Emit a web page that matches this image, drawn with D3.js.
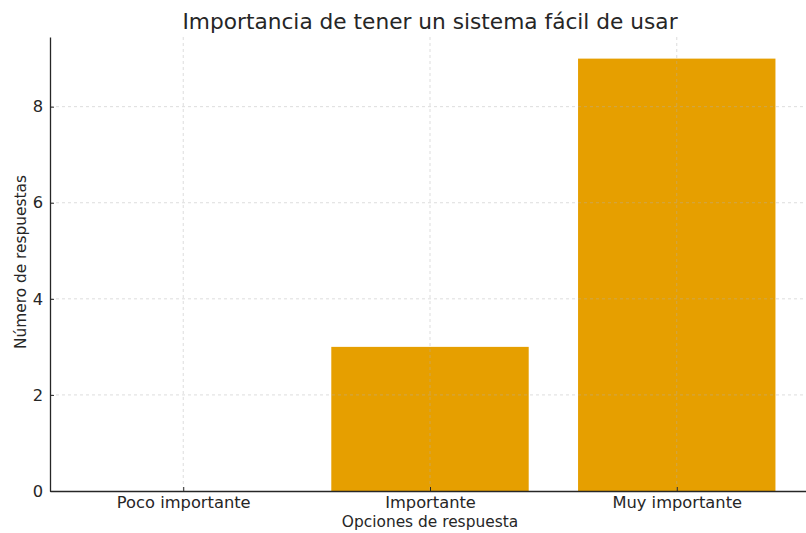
<!DOCTYPE html>
<html><head><meta charset="utf-8">
<script src="https://cdn.jsdelivr.net/npm/d3@7"></script>
<style>body{margin:0;background:#fff}svg{display:block}text{font-family:"DejaVu Sans",sans-serif;fill:#262626}</style>
</head><body>
<script>
const categories = ["Poco importante", "Importante", "Muy importante"];
const values = [0, 3, 9];
const yTicks = [0, 2, 4, 6, 8];
const title = "Importancia de tener un sistema fácil de usar";
const xLabel = "Opciones de respuesta";
const yLabel = "Número de respuestas";

const W = 806, H = 533;
const mLeft = 50, mRight = 810, mTop = 37, mBottom = 491;
const svg = d3.select("body").append("svg").attr("width", W).attr("height", H);

const x = d3.scaleLinear().domain([-0.54, 2.54]).range([mLeft, mRight]);
const y = d3.scaleLinear().domain([0, 9.45]).range([mBottom, mTop]);
const bw = x(0.8) - x(0);

svg.selectAll("rect.bar").data(values).enter().append("rect")
  .attr("x", (d, i) => x(i) - bw / 2).attr("width", bw)
  .attr("y", d => y(d)).attr("height", d => y(0) - y(d))
  .attr("fill", "#E69F00");

const grid = svg.append("g");
grid.selectAll("line.gy").data(yTicks.slice(1)).enter().append("line")
  .attr("x1", mLeft).attr("x2", mRight).attr("y1", d => y(d)).attr("y2", d => y(d))
  .attr("stroke", "#b0b0b0").attr("stroke-opacity", 0.55).attr("stroke-dasharray", "3,3").attr("stroke-width", 0.8);
grid.selectAll("line.gx").data(categories).enter().append("line")
  .attr("x1", (d, i) => x(i)).attr("x2", (d, i) => x(i)).attr("y1", mTop).attr("y2", mBottom)
  .attr("stroke", "#b0b0b0").attr("stroke-opacity", 0.55).attr("stroke-dasharray", "3,3").attr("stroke-width", 0.8);

const yAxis = svg.append("g").attr("transform", `translate(${mLeft},0)`)
  .call(d3.axisLeft(y).tickValues(yTicks).tickFormat(d3.format("d")).tickSizeInner(-4).tickSizeOuter(0).tickPadding(7));
const xAxis = svg.append("g").attr("transform", `translate(0,${mBottom})`)
  .call(d3.axisBottom(x).tickValues([0, 1, 2]).tickFormat(i => categories[i]).tickSizeInner(-4).tickSizeOuter(0).tickPadding(5));
[yAxis, xAxis].forEach(a => {
  a.select(".domain").attr("stroke", "#262626").attr("stroke-width", 1.3);
  a.selectAll(".tick line").attr("stroke", "#262626");
  a.selectAll("text").attr("font-size", 16.3).attr("font-family", "DejaVu Sans").attr("fill", "#262626");
});

svg.append("text").attr("x", (mLeft + mRight) / 2).attr("y", 29).attr("text-anchor", "middle")
  .attr("font-size", 21.7).text(title);
svg.append("text").attr("x", (mLeft + mRight) / 2).attr("y", 527).attr("text-anchor", "middle")
  .attr("font-size", 15.4).text(xLabel);
svg.append("text").attr("transform", `translate(26,262) rotate(-90)`).attr("text-anchor", "middle")
  .attr("font-size", 15.4).text(yLabel);
</script>
</body></html>
